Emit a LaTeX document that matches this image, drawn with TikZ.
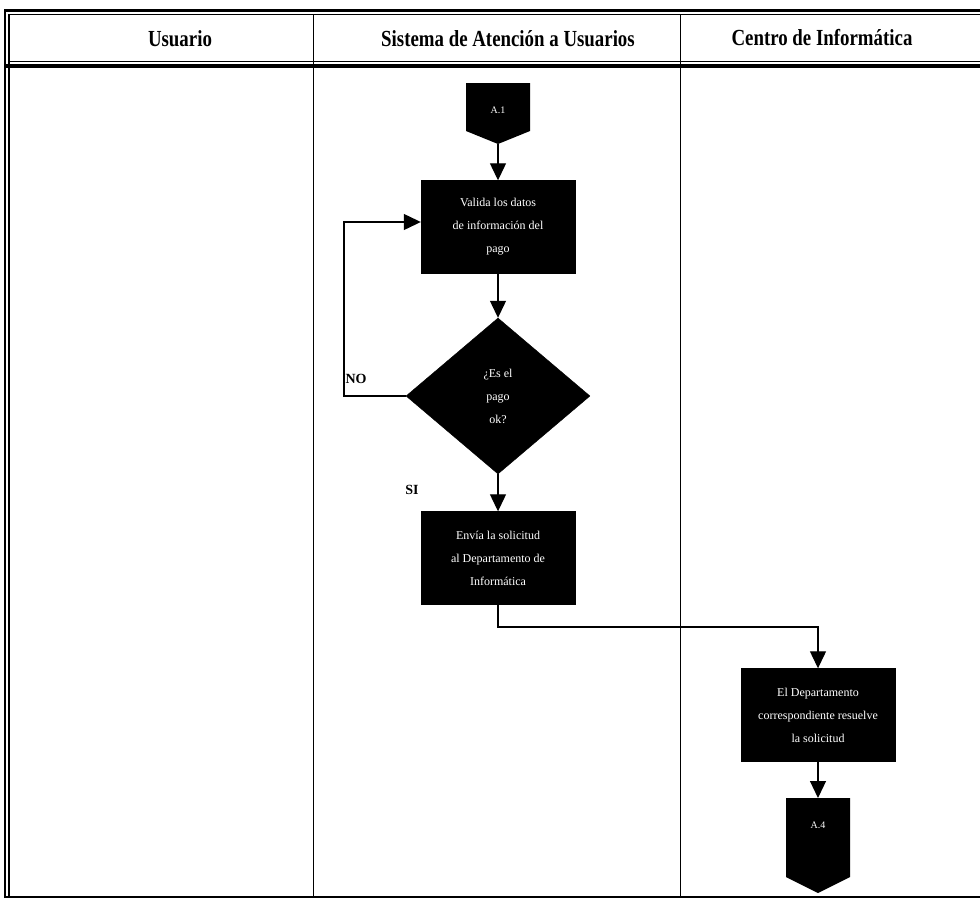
\documentclass[tikz,border=0pt]{standalone}
\usepackage{fontspec}
\setmainfont{Liberation Serif}
\newfontfamily\headfont[FakeStretch=0.82]{Liberation Serif}
\usetikzlibrary{arrows.meta,shapes.geometric}
\begin{document}
\begin{tikzpicture}[x=1pt,y=-1pt,
  flowbox/.style={draw=black,fill=black,text=white,minimum width=154pt,minimum height=93pt,
    align=center,font=\fontsize{12}{23}\selectfont,inner sep=2pt},
  decision/.style={diamond,draw=black,fill=black,text=white,minimum width=184pt,minimum height=156pt,
    aspect=1.18,align=center,font=\fontsize{12}{23}\selectfont,inner sep=0pt},
  flow/.style={line width=1.2pt,-{Triangle[length=17pt,width=16pt]}},
  lbl/.style={font=\bfseries\fontsize{14}{16}\selectfont},
  lane/.style={font=\headfont\bfseries\fontsize{23}{25}\selectfont}]
\useasboundingbox (0,0) rectangle (980,902);
\fill[white] (0,0) rectangle (980,902);

% swimlane frame
\draw[line width=3pt] (4,10) -- (980,10);
\draw[line width=1pt] (9,14) -- (980,14);
\draw[line width=1pt] (9,61) -- (980,61);
\draw[line width=4.5pt] (4,66) -- (980,66);
\draw[line width=1.2pt] (5,10) -- (5,898);
\draw[line width=1.2pt] (9,14) -- (9,898);
\draw[line width=1pt] (313,14) -- (313,898);
\draw[line width=1pt] (680,14) -- (680,898);
\draw[line width=2pt] (5,897) -- (980,897);

% lane titles
\node[lane] (lane1) at (180,39) {Usuario};
\node[lane] (lane2) at (508,39) {Sistema de Atención a Usuarios};
\node[lane] (lane3) at (822,38) {Centro de Informática};

% off-page connectors
\fill (466,83) -- (530,83) -- (530,131) -- (498,144) -- (466,131) -- cycle;
\node[text=white,font=\fontsize{10}{11}\selectfont] (a1) at (498,110) {A.1};
\coordinate (a1b) at (498,144);

\fill (786,798) -- (850,798) -- (850,877) -- (818,893) -- (786,877) -- cycle;
\node[text=white,font=\fontsize{10}{11}\selectfont] (a4) at (818,825) {A.4};
\coordinate (a4t) at (818,798);

% process steps
\node[flowbox] (valida) at (498,227) {Valida los datos\\de información del\\pago};
\node[decision] (pago) at (498,396) {¿Es el\\pago\\ok?};
\node[flowbox] (envia) at (498,558) {Envía la solicitud\\al Departamento de\\Informática};
\node[flowbox] (depto) at (818,715) {El Departamento\\correspondiente resuelve\\la solicitud};

% connectors
\draw[flow] (a1b) -- (valida.north);
\draw[flow] (valida.south) -- (pago.north);
\draw[flow] (pago.south) -- (envia.north);
\draw[flow] (pago.west) -- (344,396) -- (344,222) -- (valida.west |- 0,222);
\draw[flow] (envia.south) -- (498,627) -- (818,627) -- (depto.north);
\draw[flow] (depto.south) -- (a4t);

% branch labels
\node[lbl] (no) at (356,379) {NO};
\node[lbl] (si) at (412,490) {SI};
\end{tikzpicture}
\end{document}
